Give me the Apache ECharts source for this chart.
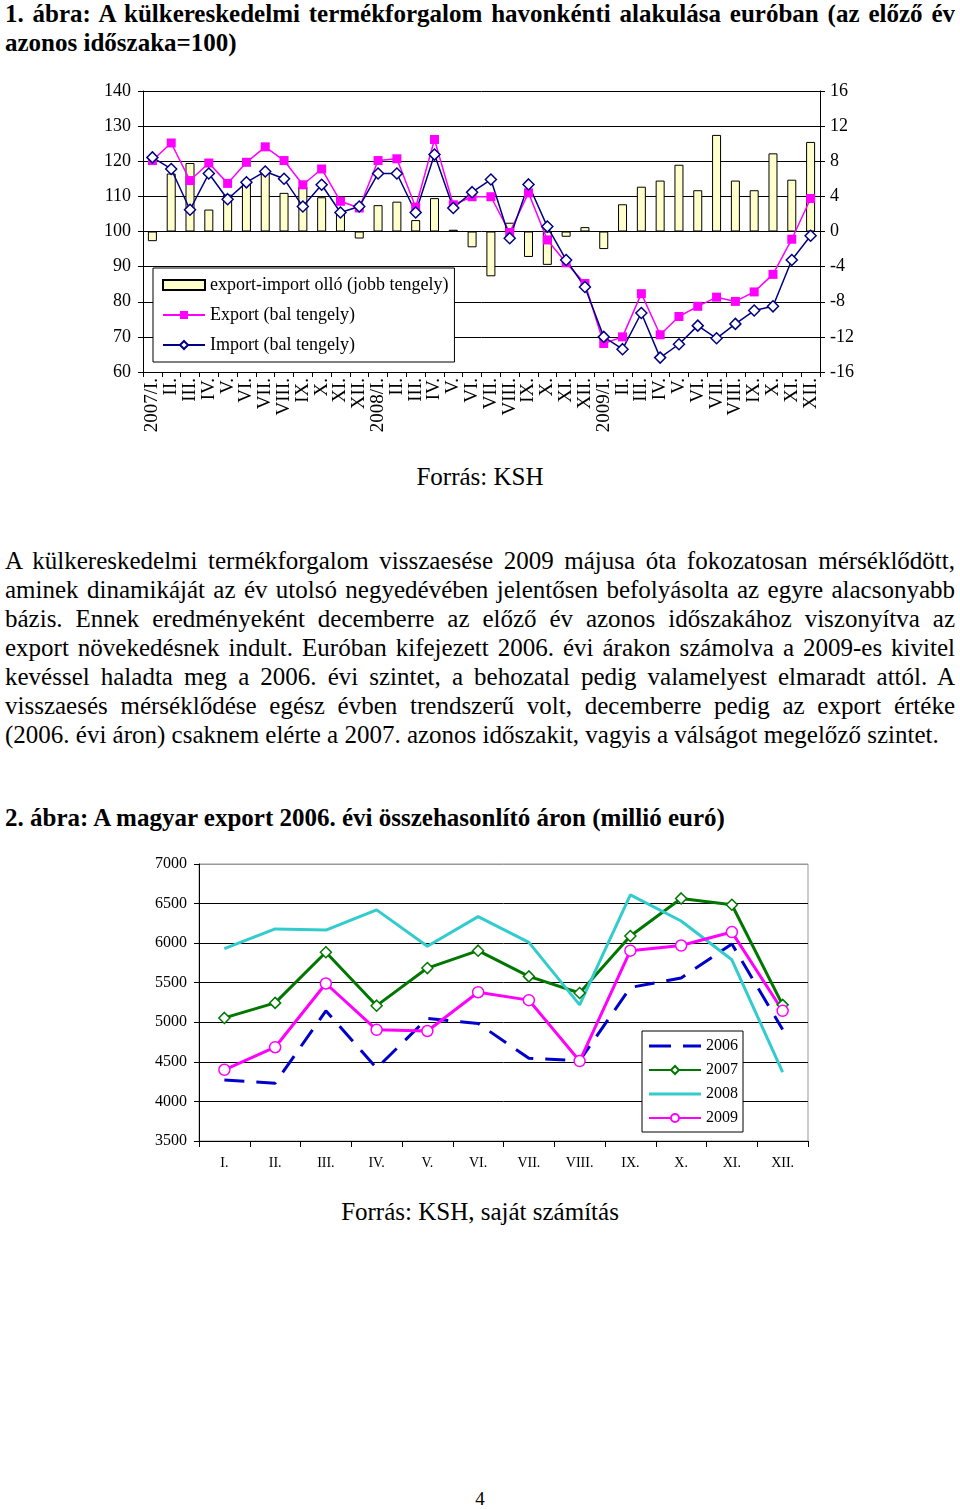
<!DOCTYPE html>
<html><head><meta charset="utf-8">
<script src="https://cdn.jsdelivr.net/npm/echarts@6/dist/echarts.min.js"></script>
<style>
html,body{margin:0;padding:0;background:#fff;}
body{width:960px;height:1509px;position:relative;overflow:hidden;font-family:"Liberation Serif","Times New Roman",serif;color:#000;}
.ln{position:absolute;left:5px;width:950px;font-size:25px;line-height:29px;white-space:nowrap;}
.j{text-align:justify;text-align-last:justify;white-space:normal;}
.b{font-weight:bold;}
.c{text-align:center;left:0;width:960px;}
#c1{position:absolute;left:0;top:70px;width:960px;height:380px;}
#c2{position:absolute;left:0;top:850px;width:960px;height:340px;}
</style></head>
<body>
<div class="ln b j" style="top:-1px">1. ábra: A külkereskedelmi termékforgalom havonkénti alakulása euróban (az előző év</div>
<div class="ln b" style="top:28px">azonos időszaka=100)</div>
<div id="c1"></div>
<div class="ln c" style="top:462px">Forrás: KSH</div>
<div class="ln j" style="top:546px">A külkereskedelmi termékforgalom visszaesése 2009 májusa óta fokozatosan mérséklődött,</div>
<div class="ln j" style="top:575px">aminek dinamikáját az év utolsó negyedévében jelentősen befolyásolta az egyre alacsonyabb</div>
<div class="ln j" style="top:604px">bázis. Ennek eredményeként decemberre az előző év azonos időszakához viszonyítva az</div>
<div class="ln j" style="top:633px">export növekedésnek indult. Euróban kifejezett 2006. évi árakon számolva a 2009-es kivitel</div>
<div class="ln j" style="top:662px">kevéssel haladta meg a 2006. évi szintet, a behozatal pedig valamelyest elmaradt attól. A</div>
<div class="ln j" style="top:691px">visszaesés mérséklődése egész évben trendszerű volt, decemberre pedig az export értéke</div>
<div class="ln" style="top:720px">(2006. évi áron) csaknem elérte a 2007. azonos időszakit, vagyis a válságot megelőző szintet.</div>
<div class="ln b" style="top:803px">2. ábra: A magyar export 2006. évi összehasonlító áron (millió euró)</div>
<div id="c2"></div>
<div class="ln c" style="top:1197px">Forrás: KSH, saját számítás</div>
<div class="ln c" style="top:1484px;font-size:19px">4</div>
<script>
// ---- Chart 1 data ----
const months1 = ['2007/I.','II.','III.','IV.','V.','VI.','VII.','VIII.','IX.','X.','XI.','XII.',
  '2008/I.','II.','III.','IV.','V.','VI.','VII.','VIII.','IX.','X.','XI.','XII.',
  '2009/I.','II.','III.','IV.','V.','VI.','VII.','VIII.','IX.','X.','XI.','XII.'];
const scissors = [-1.1,6.6,7.8,2.5,4.2,5.7,6.8,4.4,5.1,3.9,2.1,-0.8,
  3.0,3.4,1.3,3.8,0.2,-1.8,-5.1,1.0,-2.9,-3.8,-0.6,0.5,
  -2.0,3.1,5.1,5.8,7.6,4.7,11.0,5.8,4.7,8.9,5.9,10.2];
const exportIdx = [120.2,125.2,114.5,119.5,113.7,119.7,124.1,120.2,113.3,117.8,108.6,106.7,
  120.2,120.7,106.9,126.2,107.6,109.9,109.9,99.7,111.0,97.6,91.1,85.2,
  68.1,70.0,82.3,70.6,75.8,78.7,81.3,80.1,82.8,87.8,97.8,109.4];
const importIdx = [121.1,117.8,106.2,116.5,109.2,114.0,117.1,115.0,107.1,113.3,105.4,107.1,
  116.5,116.5,105.4,121.9,106.7,111.2,114.8,98.1,113.4,101.4,91.9,84.2,
  70.0,66.5,76.8,64.1,67.9,73.2,69.6,73.7,77.5,78.7,91.9,98.8];
const seriesNames1 = ['export-import olló (jobb tengely)','Export (bal tengely)','Import (bal tengely)'];

// ---- Chart 2 data ----
const months2 = ['I.','II.','III.','IV.','V.','VI.','VII.','VIII.','IX.','X.','XI.','XII.'];
const y2006 = [4270,4230,5145,4420,5050,4985,4545,4515,5440,5560,5990,4910];
const y2007 = [5055,5245,5885,5210,5685,5905,5580,5370,6090,6565,6485,5220];
const y2008 = [5930,6180,6165,6420,5960,6335,6010,5220,6610,6280,5790,4370];
const y2009 = [4400,4685,5490,4905,4890,5380,5280,4510,5905,5970,6140,5145];
const years2 = ['2006','2007','2008','2009'];

const FONT = 'Liberation Serif';

const c1 = echarts.init(document.getElementById('c1'));
c1.setOption({
  animation:false,
  textStyle:{fontFamily:FONT,color:'#000'},
  grid:{left:143,right:140,top:21,bottom:78},
  legend:{
    left:153, top:198, orient:'vertical',
    backgroundColor:'#fff', borderColor:'#000', borderWidth:1,
    padding:[8,6,8,9], itemGap:12, itemWidth:42, itemHeight:10,
    textStyle:{fontFamily:FONT,fontSize:18,color:'#000'},
    data:[{name:seriesNames1[0],icon:'rect'},seriesNames1[1],seriesNames1[2]]
  },
  xAxis:{
    type:'category', data:months1,
    axisLine:{onZero:false,lineStyle:{color:'#000'}},
    axisTick:{show:true,length:5,lineStyle:{color:'#000'}},
    axisLabel:{interval:0,rotate:90,fontFamily:FONT,fontSize:19,color:'#000',margin:6}
  },
  yAxis:[
    {type:'value',min:60,max:140,interval:10,
     axisLine:{show:true,lineStyle:{color:'#000'}},
     axisTick:{show:true,length:5,lineStyle:{color:'#000'}},
     axisLabel:{fontFamily:FONT,fontSize:18,color:'#000',margin:12},
     splitLine:{lineStyle:{color:'#000',width:1}}},
    {type:'value',min:-16,max:16,interval:4,position:'right',
     axisLine:{show:true,lineStyle:{color:'#000'}},
     axisTick:{show:true,length:5,lineStyle:{color:'#000'}},
     axisLabel:{fontFamily:FONT,fontSize:18,color:'#000',margin:10},
     splitLine:{show:false}}
  ],
  series:[
    {name:seriesNames1[0],type:'bar',yAxisIndex:1,data:scissors,barWidth:9,
     itemStyle:{color:'#FFFFCC',borderColor:'#000',borderWidth:1}},
    {name:seriesNames1[1],type:'line',yAxisIndex:0,data:exportIdx,
     symbol:'rect',symbolSize:9,lineStyle:{color:'#FF00FF',width:1.5},
     itemStyle:{color:'#FF00FF',borderColor:'#FF00FF',borderWidth:0}},
    {name:seriesNames1[2],type:'line',yAxisIndex:0,data:importIdx,
     symbol:'diamond',symbolSize:11,lineStyle:{color:'#000080',width:1.5},
     itemStyle:{color:'#fff',borderColor:'#000080',borderWidth:1.5}}
  ]
});

const c2 = echarts.init(document.getElementById('c2'));
c2.setOption({
  animation:false,
  textStyle:{fontFamily:FONT,color:'#000'},
  grid:{left:199,right:152,top:14,bottom:49,show:true,borderColor:'#999',borderWidth:1},
  legend:{
    left:642, top:181, orient:'vertical',
    backgroundColor:'#fff', borderColor:'#000', borderWidth:1,
    padding:[7,5,6,6], itemGap:8, itemWidth:52, itemHeight:10,
    symbolKeepAspect:false,
    textStyle:{fontFamily:FONT,fontSize:16,color:'#000'},
    data:[
      {name:years2[0],icon:'path://M0,0h0.01v10h-0.01zM0,3.5h22v3h-22zM34,3.5h18v3h-18z',itemStyle:{color:'#0000CC'}},
      years2[1],
      {name:years2[2],icon:'path://M0,0h0.01v10h-0.01zM0,3.5h52v3h-52z',itemStyle:{color:'#33CCCC'}},
      years2[3]
    ]
  },
  xAxis:{
    type:'category', data:months2,
    axisLine:{lineStyle:{color:'#000'}},
    axisTick:{show:true,length:6,lineStyle:{color:'#000'}},
    axisLabel:{interval:0,fontFamily:FONT,fontSize:14,color:'#000',margin:15}
  },
  yAxis:{
    type:'value',min:3500,max:7000,interval:500,
    axisLine:{show:true,lineStyle:{color:'#000'}},
    axisTick:{show:true,length:5,lineStyle:{color:'#000'}},
    axisLabel:{fontFamily:FONT,fontSize:16,color:'#000',margin:12,formatter:function(v){return String(v);}},
    splitLine:{lineStyle:{color:['#000','#000','#000','#000','#000','#000','#000','#999'],width:1}}
  },
  series:[
    {name:years2[0],type:'line',data:y2006,symbol:'none',
     lineStyle:{color:'#0000CC',width:3,type:[20,12]},itemStyle:{color:'#0000CC'}},
    {name:years2[1],type:'line',data:y2007,symbol:'diamond',symbolSize:11,
     lineStyle:{color:'#007700',width:3},itemStyle:{color:'#fff',borderColor:'#007700',borderWidth:1.5}},
    {name:years2[2],type:'line',data:y2008,symbol:'none',
     lineStyle:{color:'#33CCCC',width:3},itemStyle:{color:'#33CCCC'}},
    {name:years2[3],type:'line',data:y2009,symbol:'circle',symbolSize:11,
     lineStyle:{color:'#FF00FF',width:3},itemStyle:{color:'#fff',borderColor:'#FF00FF',borderWidth:1.5}}
  ]
});
</script>
</body></html>
